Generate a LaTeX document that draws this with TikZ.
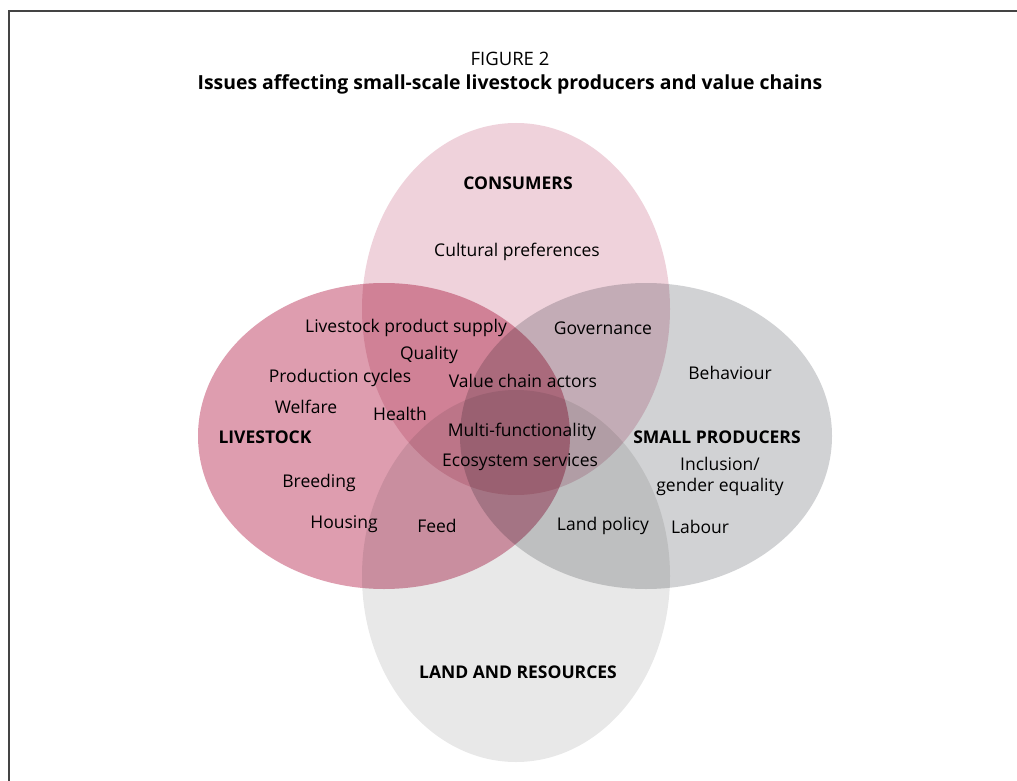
\documentclass[tikz,border=0pt]{standalone}
\usepackage{fontspec}
\setmainfont{Open Sans}
\usepackage{tikz}
\usetikzlibrary{shapes.geometric}

\definecolor{consumerpink}{RGB}{239,210,219}
\definecolor{livestockpink}{RGB}{222,157,175}
\definecolor{producergray}{RGB}{209,210,212}
\definecolor{landgray}{RGB}{232,232,232}
\definecolor{framegray}{RGB}{68,68,68}

\tikzset{
 issue/.style={font=\fontsize{17.5}{21}\selectfont, inner sep=0pt},
 head/.style={font=\fontsize{17.5}{21}\selectfont\bfseries, inner sep=0pt},
 blob/.style={ellipse, inner sep=0pt, draw=none}
}

\begin{document}
\begin{tikzpicture}[x=1pt, y=-1pt]
 \useasboundingbox (0,0) rectangle (1017,781);

 % frame
 \coordinate (frametop) at (1017,11);
 \coordinate (framecorner) at (9,11);
 \coordinate (framebottom) at (9,781);
 \draw[framegray, line width=1.8pt] (frametop) -- (framecorner) -- (framebottom);

 % the four sets
 \begin{scope}[blend mode=multiply]
 \draw (516,309) node[blob, fill=consumerpink, minimum width=308pt, minimum height=372pt] (Consumers) {};
 \draw (516,576) node[blob, fill=landgray, minimum width=308pt, minimum height=372pt] (Land) {};
 \draw (384,436) node[blob, fill=livestockpink, minimum width=372pt, minimum height=306pt] (Livestock) {};
 \draw (646,436) node[blob, fill=producergray, minimum width=372pt, minimum height=306pt] (Producers) {};
 \end{scope}

 % title
 \draw (510,59) node[issue, font=\fontsize{18.5}{22}\selectfont] (fig) {FIGURE 2};
 \draw (510,84) node[head, font=\fontsize{19.4}{23}\selectfont\bfseries] (title) {Issues affecting small-scale livestock producers and value chains};

 % set names
 \draw (518,183) node[head] (consumers) {CONSUMERS};
 \draw (265,437) node[head] (livestock) {LIVESTOCK};
 \draw (717,437) node[head] (producers) {SMALL PRODUCERS};
 \draw (518,672) node[head] (land) {LAND AND RESOURCES};

 % issues
 \draw (517,252) node[issue] (culture) {Cultural preferences};
 \draw (406,328) node[issue] (supply) {Livestock product supply};
 \draw (603,328) node[issue] (governance) {Governance};
 \draw (429,355) node[issue] (quality) {Quality};
 \draw (340,378) node[issue] (cycles) {Production cycles};
 \draw (523,381) node[issue] (actors) {Value chain actors};
 \draw (730,373) node[issue] (behaviour) {Behaviour};
 \draw (306,407) node[issue] (welfare) {Welfare};
 \draw (400,414) node[issue] (health) {Health};
 \draw (522,432) node[issue] (multi) {Multi-functionality};
 \draw (520,462) node[issue] (ecosystem) {Ecosystem services};
 \draw (720,476) node[issue, align=center] (inclusion) {Inclusion/\\gender equality};
 \draw (319,483) node[issue] (breeding) {Breeding};
 \draw (344,524) node[issue] (housing) {Housing};
 \draw (437,526) node[issue] (feed) {Feed};
 \draw (603,526) node[issue] (landpolicy) {Land policy};
 \draw (700,527) node[issue] (labour) {Labour};
\end{tikzpicture}
\end{document}
